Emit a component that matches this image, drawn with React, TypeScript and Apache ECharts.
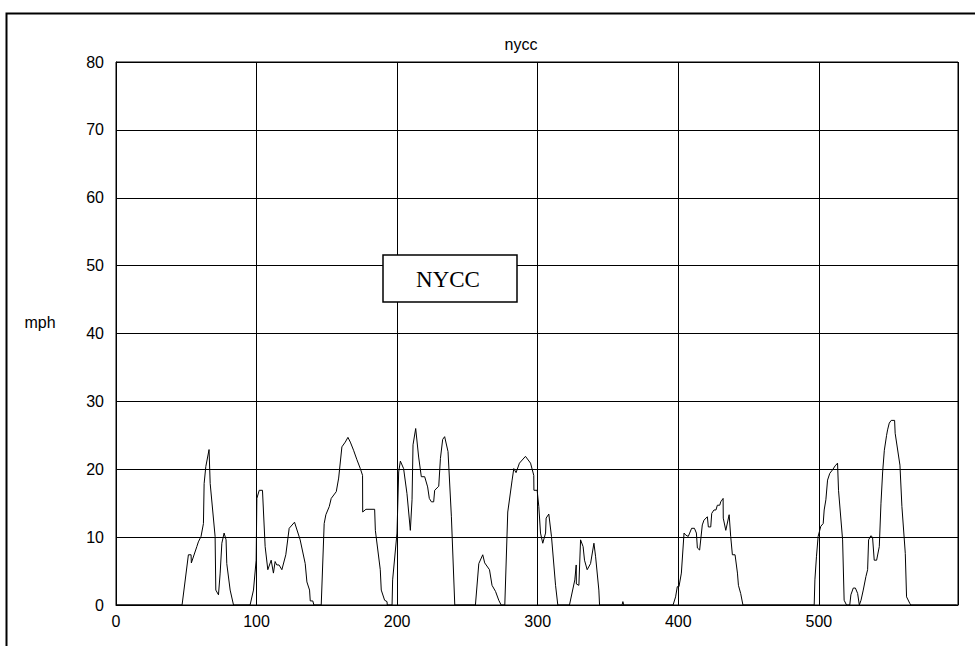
import React, { useEffect, useRef } from "react";
import * as echarts from "echarts";

const chartTitle = "nycc";
const yAxisLabel = "mph";
const boxLabel = "NYCC";
const xTicks = [0, 100, 200, 300, 400, 500];
const yTicks = [0, 10, 20, 30, 40, 50, 60, 70, 80];

// time (s)
const timeSec = [
  0, 47, 51.5, 53.4, 53.6, 57.5, 58.6, 60.5, 62.2, 62.7, 63.9, 66.2, 67, 70.5, 71, 72.9, 74.1, 75.3, 76.9, 78.3,
  78.8, 81.2, 83.6, 95.4, 97.8, 99.7, 100.2, 101.9, 104.2, 106.1, 108, 110.4, 112, 113.2, 114.4, 116, 118, 120.8,
  123.2, 127, 131, 134.6, 135.8, 137.7, 138.2, 140, 140.8, 146, 148.1, 149.3, 151.7, 153.1, 156.7, 158.4, 160.7,
  163.1, 165, 166.7, 169, 171.4, 173.8, 175.4, 175.5, 177.8, 184, 184.5, 188, 188.7, 191.1, 192.8, 193, 196.4,
  196.8, 199.9, 201.1, 202.3, 204.6, 207, 209.4, 210.6, 211.3, 213.2, 215.3, 217.2, 219.6, 221.7, 222.9, 224.4,
  226, 226.7, 229.6, 230.8, 232.4, 233.8, 236.2, 238.6, 241, 255.7, 258.1, 260.9, 262.3, 265.7, 267.5, 270,
  272.3, 274, 276.6, 278.7, 281.8, 283, 284.6, 287, 291.3, 294.9, 297.2, 297.3, 299.6, 300.8, 302, 303.6, 305.6,
  306, 307.9, 309.8, 312.7, 314.3, 322.6, 326.4, 327.4, 327.5, 329.3, 330.5, 332.3, 333.3, 335.2, 337.6, 340,
  341.2, 343.5, 344, 360, 360.6, 361.2, 396.3, 398.1, 399.3, 400.5, 402.2, 404.1, 405.3, 407.1, 408.1, 409.5,
  411.5, 412.9, 413.6, 415.2, 417.1, 418.3, 420.7, 421.4, 423.1, 423.8, 425.4, 426.8, 427.8, 429.5, 430.2, 431.9,
  432, 433.8, 436.2, 437.3, 438.5, 440.4, 442.1, 442.8, 444.4, 446, 496.7, 497.2, 498.3, 499.5, 501.4, 503.1,
  503.8, 505, 506.2, 507.8, 509.7, 511.6, 513.3, 514, 516.9, 518, 519.7, 522, 522.8, 524.5, 526, 527.6, 528.8,
  530, 531.6, 533.5, 534.7, 535.4, 537, 538.2, 539.4, 541.1, 543, 544.2, 545.4, 546.6, 548.2, 548.9, 550.1,
  551.5, 553.9, 554.3, 557.7, 559.1, 561.5, 562.4, 564.8, 565.5, 598,
];

// speed (mph)
const speedMph = [
  0, 0, 7.4, 7.4, 6.2, 8.6, 9.3, 10.1, 12.0, 17.9, 20.4, 22.9, 17.9, 10.1, 2.2, 1.5, 4.7, 9.1, 10.6, 9.6,
  6.1, 2.2, 0, 0, 2.2, 6.6, 15.7, 16.9, 16.9, 8.6, 5.2, 6.6, 4.7, 6.4, 5.9, 5.9, 5.2, 7.4,
  11.3, 12.2, 9.6, 6.1, 3.4, 2.2, 0.6, 0.6, 0, 0, 12.0, 13.3, 14.5, 15.7, 16.7, 18.7, 23.3,
  24.0, 24.7, 24.0, 22.8, 21.4, 20.1, 19.1, 13.7, 14.1, 14.1, 11.0, 5.2, 2.2, 0.7, 0.5, 0, 0,
  3.7, 10.6, 19.6, 21.2, 20.1, 16.4, 11.0, 15.5, 23.6, 26.0, 21.8, 18.9, 18.9, 17.4, 15.7, 15.2,
  15.2, 16.9, 17.5, 21.6, 24.4, 24.8, 22.6, 13.0, 0, 0, 6.1, 7.4, 6.2, 5.2, 2.9, 2.0,
  0.7, 0, 0, 13.7, 18.4, 20.1, 19.5, 20.9, 21.9, 20.9, 19.1, 16.9, 16.9, 14.5, 10.6, 9.1, 10.6,
  12.8, 13.4, 10.1, 2.9, 0, 0, 3.7, 5.9, 3.1, 2.9, 9.6, 8.6, 6.6, 5.2, 6.1, 9.1,
  7.1, 2.2, 0, 0, 0.5, 0, 0, 1.2, 2.7, 2.7, 4.7, 10.6, 10.3, 10.1, 10.6, 11.3,
  11.3, 10.6, 8.4, 8.1, 11.8, 12.5, 13.0, 11.5, 11.5, 13.5, 14.0, 14.0, 14.7, 14.7, 15.2, 15.7,
  12.8, 11.0, 13.3, 10.1, 7.4, 7.4, 4.7, 2.9, 1.7, 0, 0, 3.7, 7.1, 10.1, 11.6, 12.0,
  14.0, 15.5, 18.4, 19.4, 19.9, 20.5, 20.9, 16.9, 9.6, 0.7, 0, 0, 1.5, 2.5, 2.5, 1.7, 0,
  0.7, 2.2, 4.2, 5.2, 9.6, 10.2, 10.0, 6.6, 6.6, 8.6, 15.0, 19.6, 22.8, 25.0, 25.8, 26.8,
  27.2, 27.2, 25.3, 20.6, 14.5, 7.6, 1.2, 0.2, 0, 0,
];

export default function App() {
  const ref = useRef<HTMLDivElement>(null);

  useEffect(() => {
    if (!ref.current) return;
    const chart = echarts.init(ref.current, null, { renderer: "svg" });
    const data = timeSec.map((t, i) => [t, speedMph[i]]);
    const font = "'Liberation Sans', Arial, sans-serif";
    const gridLeft = 116;
    const gridTop = 62;
    const gridRight = 17;
    const gridBottom = 41;

    chart.setOption({
      animation: false,
      backgroundColor: "#ffffff",
      grid: {
        left: gridLeft,
        top: gridTop,
        right: gridRight,
        bottom: gridBottom,
        show: true,
        borderColor: "#000",
        borderWidth: 1,
      },
      xAxis: {
        type: "value",
        min: xTicks[0],
        max: 599,
        interval: 100,
        axisLine: { show: true, lineStyle: { color: "#000", width: 1 } },
        axisTick: { show: true, inside: true, length: 6, lineStyle: { color: "#000" } },
        splitLine: { show: true, lineStyle: { color: "#000", width: 1 } },
        axisLabel: {
          color: "#000",
          fontFamily: font,
          fontSize: 16,
          margin: 8,
          showMaxLabel: false,
          formatter: (v: number) => (xTicks.includes(v) ? String(v) : ""),
        },
      },
      yAxis: {
        type: "value",
        min: yTicks[0],
        max: yTicks[yTicks.length - 1],
        interval: 10,
        axisLine: { show: true, lineStyle: { color: "#000", width: 1 } },
        axisTick: { show: true, inside: true, length: 6, lineStyle: { color: "#000" } },
        splitLine: { show: true, lineStyle: { color: "#000", width: 1 } },
        axisLabel: {
          color: "#000",
          fontFamily: font,
          fontSize: 16,
          margin: 12,
        },
      },
      series: [
        {
          type: "line",
          data,
          showSymbol: false,
          symbol: "none",
          lineStyle: { color: "#000", width: 1 },
          z: 3,
        },
      ],
      graphic: [
        {
          type: "rect",
          left: 4,
          top: 11,
          shape: { x: 0, y: 0, width: 1000, height: 700 },
          style: { fill: "none", stroke: "#000", lineWidth: 2 },
          silent: true,
        },
        {
          type: "text",
          x: 521,
          y: 44,
          style: {
            text: chartTitle,
            fill: "#000",
            font: `16px ${font}`,
            textAlign: "center",
            textVerticalAlign: "middle",
          },
        },
        {
          type: "text",
          x: 40,
          y: 322,
          style: {
            text: yAxisLabel,
            fill: "#000",
            font: `16px ${font}`,
            textAlign: "center",
            textVerticalAlign: "middle",
          },
        },
        {
          type: "group",
          z: 10,
          children: [
            {
              type: "rect",
              shape: { x: 383, y: 255, width: 134, height: 47 },
              style: { fill: "#fff", stroke: "#000", lineWidth: 1.5 },
              z: 10,
            },
            {
              type: "text",
              x: 448,
              y: 279,
              z: 11,
              style: {
                text: boxLabel,
                fill: "#000",
                font: `23px 'Liberation Serif', 'Times New Roman', serif`,
                textAlign: "center",
                textVerticalAlign: "middle",
              },
            },
          ],
        },
      ],
    });

    return () => chart.dispose();
  }, []);

  return <div ref={ref} style={{ width: 975, height: 646, position: "absolute", left: 0, top: 0 }} />;
}
